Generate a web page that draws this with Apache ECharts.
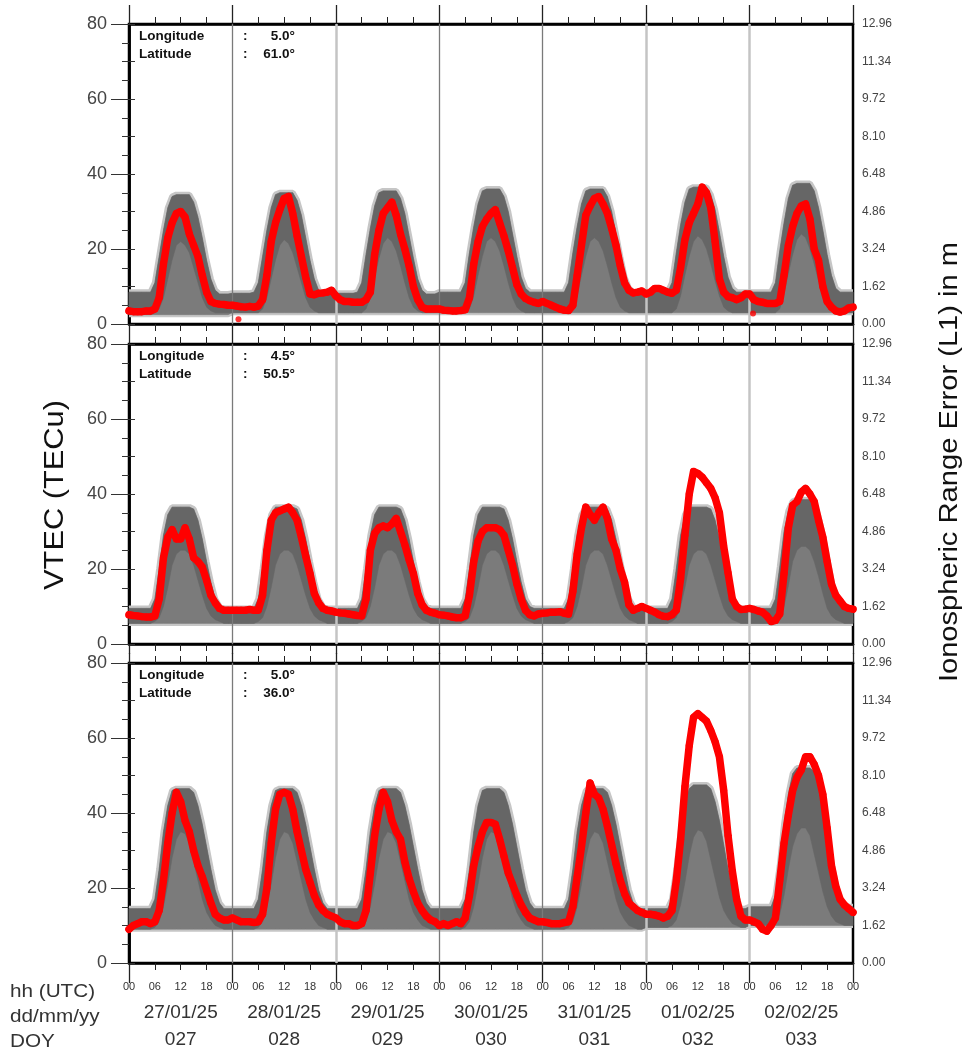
<!DOCTYPE html>
<html><head><meta charset="utf-8">
<script src="https://cdn.jsdelivr.net/npm/echarts@6/dist/echarts.min.js"></script>
<style>html,body{margin:0;padding:0;background:#fff}#c{width:971px;height:1054px}</style>
</head><body><div id="c"></div>
<script>
// ---------- data ----------
const dates = ['27/01/25','28/01/25','29/01/25','30/01/25','31/01/25','01/02/25','02/02/25'];
const doys = ['027','028','029','030','031','032','033'];
const lons = ['5.0','4.5','5.0'];
const lats = ['61.0','50.5','36.0'];
const rowLabels = ['hh (UTC)','dd/mm/yy','DOY'];

// measured VTEC (red), hourly per day (last day includes 00 of next day)
const vtecLat61 = [
 [3.5,3.3,3.3,3.3,3.5,3.5,4,7,16,23,27,29.5,30,28.5,24,21,18,13,8.5,6,5.5,5.3,5.2,5],
 [5,4.8,4.6,4.5,4.7,4.5,4.8,6.5,13,22,27,30.5,33.5,34,29.5,23.5,18,12.5,8,7.8,8.2,8.3,8.5,9],
 [7.5,6.5,6,6,5.8,5.8,5.8,6.5,8.5,18.5,25,29.5,31,32.5,29,24,20,15.5,10,6.5,4.5,4,4,4],
 [4,3.7,3.6,3.5,3.5,3.6,3.8,7,16,22,26,28,29.5,30.5,27,23.5,19.5,15,10.5,8,6.8,6.2,5.8,5.5],
 [6,5.5,5,4.5,4,3.7,3.6,5,13,21,29,31.5,33.5,34,32,29.5,25.5,21,15.5,11,9,8.3,8.5,8.8],
 [8,8.5,9.5,9.5,9,8.5,8.2,9,15,22.5,27,29.5,32,36.5,35,31,22,12,8.5,7.3,7,6.5,7,8],
 [8,6.5,6,5.8,5.5,5.5,5.5,6,13,21,26,29.5,31.5,32,28,20,17,10,6,4.5,3.5,3.2,3.5,4.3,4.5]
];
const vtecLat50 = [
 [7.8,7.6,7.5,7.3,7.2,7.2,7.5,12,23,28.5,30.5,28,28,31,28,23,22,20.5,17,13,11,9.5,9,9],
 [9,9,9,9,9.2,9,9,13,25,33,35,35.5,36,36.5,35,33,28.5,23.5,18.8,13.5,11,9.5,9,8.8],
 [8.5,8.3,8.2,8,7.8,7.6,7.5,12,25,29.5,31,31.5,31,32,33.5,30,26.5,22.5,18.8,13.5,10.5,9,8.5,8.2],
 [7.8,7.7,7.5,7.2,7,7,7.5,13,22,27.5,30,31,31,31,30.5,29,25,21,16,12,9,7.8,7.5,8],
 [8.2,8.3,8.5,8.5,8.6,8.2,8,14,24,31,36.5,34.5,33,35,36.5,33.5,28,25,20,16.5,10.5,9,9.5,10],
 [9.5,9,8.5,7.8,7.4,7.3,7.8,9,17.5,29,40,46,45.5,44.5,43,41.5,39,35,26,19,12,10,9.2,9.3],
 [9.5,9.2,8.8,8.5,7.5,6,6.3,8,18.8,31,37,38,40.5,41.5,40,38,33,28.5,22,16,13,11.5,10,9.5,9.3]
];
const vtecLat36 = [
 [9,10,10.5,11,11,10.5,11,14,22,32,40,45.5,43,38,35,30,26,23,19.5,16,13,12,11.5,11.5],
 [12,11.5,11,11,11,10.8,11,13,20,32,41,45,45.5,45,41,35,30,25,21.5,18,15.5,14,13,12.5],
 [12,11,10.5,10.5,10,10,10.5,14,24,34,41,45.5,43,38,35,33,27,22.5,19,16,14,12.5,11.5,11],
 [10,10.5,10,10.5,11,10.5,12,18,26,31,35,37.5,37.5,37,33,28.5,24,21,18,15.5,13.5,12,11.5,11],
 [11,10.8,10.5,10.5,10.5,10.8,11,15,23,31,40,48,45,44,41,36.5,31.5,26.5,22,18.5,16,15,14,13.5],
 [13,13,12.8,12.5,12,12.5,14,22,33,47,58,65.5,66.5,65.5,64.5,62,59,55,46,34,24.5,17,12.5,11.5],
 [11.5,11,10.5,9,8.5,10,12,22,32,39.5,46,49.5,51.5,55,55,53,50,45,36,26,20.5,17,15.5,14.5,13.5]
];
// isolated red points [hour since 27/01 00 UTC, VTEC]
const outliers61 = [[25.4,1.3],[144.8,2.8]];
const outliers50 = [];
const outliers36 = [];

// reference band (grey): upper limit, dense-core lower limit, and night floor, hourly
const bandHi61 = [
 [8.5,8.5,8.5,8.5,8.5,8.5,11,18,25,31,34,34.5,34.5,34.5,34.5,32.5,28.5,23,17,12,9,8,8,8],
 [8.2,8.2,8.2,8.2,8.2,8.5,11,18,25,31,34.5,35,35,35,35,33,29,23,17,12,9,8,8,8],
 [8.2,8.2,8.2,8.2,8.2,8.5,11,18.5,25.5,31.5,35,35.5,35.5,35.5,35.5,33.5,29.5,23.5,17.5,12,9,8,8,8],
 [8.5,8.5,8.5,8.5,8.5,8.5,11,19,26,32,35.5,36,36,36,36,34,30,24,18,12.5,9.5,8.5,8.5,8.5],
 [8.5,8.5,8.5,8.5,8.5,8.5,11,19,26,32,35.5,36,36,36,36,34,30,24,18,12.5,9.5,8.5,8.5,8.5],
 [8.5,8.5,8.5,8.5,8.5,8.5,11,19,26.5,32.5,36,36.5,36.5,36.5,36.5,34.5,30.5,24.5,18,12.5,9.5,8.5,8.5,8.5],
 [8.5,8.5,8.5,8.5,8.5,8.5,11,19.5,27,33.5,37,37.5,37.5,37.5,37.5,35.5,31,25,18.5,13,9.5,8.5,8.5,8.5,8.5]
];
const bandLo61 = [
 [2.5,2.5,2.5,2.5,2.5,2.5,3,4,7,12,17,21,22,21,19,15,11,7,4.5,3.5,3,3,3,3],
 [3,3,3,3,3,3,3,4,7,12,17,21,22.5,21.5,19,15,11,7,4.5,3.5,3,3,3,3],
 [3,3,3,3,3,3,3,4,7,12.5,17.5,21.5,23,22,19.5,15.5,11,7,4.5,3.5,3,3,3,3],
 [3,3,3,3,3,3,3,4,7.5,13,18,22,23,22,19.5,15.5,11,7,4.5,3.5,3,3,3,3],
 [3,3,3,3,3,3,3,4,7.5,13,18,22,23,22,19.5,15.5,11,7,4.5,3.5,3,3,3,3],
 [3,3,3,3,3,3,3,4,7.5,13,18,22,23.5,22.5,20,16,11.5,7.5,4.5,3.5,3,3,3,3],
 [3,3,3,3,3,3,3,4,8,13.5,18.5,22.5,24,23,20,16,11.5,7.5,4.5,3.5,3,3,3,3,3]
];
const bandFloor61 = [2.5,3,3,3,3,3,3];

const bandHi50 = [
 [9.5,9.5,9.5,9.5,9.5,9.5,12,20,29,34.5,36.5,36.5,36.5,36.5,36.5,36,33,28,22,16.5,12,10,9.5,9.5],
 [9.5,9.5,9.5,9.5,9.5,9.5,12,20,29,34.5,36.5,36.5,36.5,36.5,36.5,36,33,28,22,16.5,12,10,9.5,9.5],
 [9.5,9.5,9.5,9.5,9.5,9.5,12,20,29,34.5,36.5,36.5,36.5,36.5,36.5,36,33,28,22,16.5,12,10,9.5,9.5],
 [9.5,9.5,9.5,9.5,9.5,9.5,12,20,29,34.5,36.5,36.5,36.5,36.5,36.5,36,33,28,22,16.5,12,10,9.5,9.5],
 [9.5,9.5,9.5,9.5,9.5,9.5,12,20,29,34.5,36.5,36.5,36.5,36.5,36.5,36,33,28,22,16.5,12,10,9.5,9.5],
 [9.5,9.5,9.5,9.5,9.5,9.5,12,20,29,34.5,36.5,36.5,36.5,36.5,36.5,36,33,28,22,16.5,12,10,9.5,9.5],
 [9.5,9.5,9.5,9.5,9.5,9.5,12,20.5,30,35.5,38,38.5,38.5,38.5,38.5,37.5,34,29,23,17,12,10,9.5,9.5,9.5]
];
const bandLo50 = [
 [5.5,5.5,5.5,5.5,5.5,5.5,6,7,10,15,21,24,25,25,24,21,17,13,9.5,7.5,6.5,6,5.5,5.5],
 [5.5,5.5,5.5,5.5,5.5,5.5,6,7,10,15,21,24,25,25,24,21,17,13,9.5,7.5,6.5,6,5.5,5.5],
 [5.5,5.5,5.5,5.5,5.5,5.5,6,7,10,15,21,24,25,25,24,21,17,13,9.5,7.5,6.5,6,5.5,5.5],
 [5.5,5.5,5.5,5.5,5.5,5.5,6,7,10,15,21,24,25,25,24,21,17,13,9.5,7.5,6.5,6,5.5,5.5],
 [5.5,5.5,5.5,5.5,5.5,5.5,6,7,10,15,21,24,25,25,24,21,17,13,9.5,7.5,6.5,6,5.5,5.5],
 [5.5,5.5,5.5,5.5,5.5,5.5,6,7,10,15,21,24,25,25,24,21,17,13,9.5,7.5,6.5,6,5.5,5.5],
 [5.5,5.5,5.5,5.5,5.5,5.5,6,7,10,15.5,22,25,26,26,25,22,18,13.5,9.5,7.5,6.5,6,5.5,5.5,5.5]
];
const bandFloor50 = [5.5,5.5,5.5,5.5,5.5,5.5,5.5];

const bandHi36 = [
 [14.5,14.5,14.5,14.5,14.5,14.5,17,25,35,42,46,46.5,46.5,46.5,46.5,45.5,42,37,31,25,19.5,16,14.5,14.5],
 [14.5,14.5,14.5,14.5,14.5,14.5,17,25,35,42,46,46.5,46.5,46.5,46.5,45.5,42,37,31,25,19.5,16,14.5,14.5],
 [14.5,14.5,14.5,14.5,14.5,14.5,17,25,35,42,46,46.5,46.5,46.5,46.5,45.5,42,37,31,25,19.5,16,14.5,14.5],
 [14.5,14.5,14.5,14.5,14.5,14.5,17,25,35,42,46,46.5,46.5,46.5,46.5,45.5,42,37,31,25,19.5,16,14.5,14.5],
 [14.5,14.5,14.5,14.5,14.5,14.5,17,25,35,42,46,46.5,46.5,46.5,46.5,45.5,42,37,31,25,19.5,16,14.5,14.5],
 [14.5,14.5,14.5,14.5,14.5,14.5,17,25,35,42.5,46.5,47.5,47.5,47.5,47.5,46.5,43,38,31.5,25,19.5,16,14.5,14.5],
 [15,15,15,15,15,15,18,26,37,45,50.5,52,52,52,52,51,47,41,34,27,21,17,15,15,15]
];
const bandLo36 = [
 [9,9,9,9,9,9,9.5,11,15,21,28,33,35,34.5,32,27,22,17,13.5,11.5,10,9.5,9,9],
 [9,9,9,9,9,9,9.5,11,15,21,28,33,35,34.5,32,27,22,17,13.5,11.5,10,9.5,9,9],
 [9,9,9,9,9,9,9.5,11,15,21,28,33,35,34.5,32,27,22,17,13.5,11.5,10,9.5,9,9],
 [9,9,9,9,9,9,9.5,11,15,21,28,33,35,34.5,32,27,22,17,13.5,11.5,10,9.5,9,9],
 [9,9,9,9,9,9,9.5,11,15,21,28,33,35,34.5,32,27,22,17,13.5,11.5,10,9.5,9,9],
 [9.5,9.5,9.5,9.5,9.5,9.5,10,11.5,15.5,21.5,28.5,33.5,35.5,35,32.5,27.5,22.5,17.5,14,12,10.5,10,9.5,9.5],
 [10,10,10,10,10,10,11,13,18,25,31,34.5,36,36,34,29,24,19,15,12.5,11,10.5,10,10,10]
];
const bandFloor36 = [9,9,9,9,9,9.5,10];

// ---------- helpers ----------
function toPoints(days){const out=[];days.forEach((d,di)=>d.forEach((v,h)=>out.push([di*24+h,v])));return out;}
function floorDays(hi,floor){return hi.map((d,di)=>d.map(()=>floor[di]));}
// one polygon per day, built from the hi/lo arrays through the axis scales (api.coord)
function makeDayBand(hiDays,loDays,color){
  return function(params,api){
    const d=params.dataIndex;
    const hs=hiDays[d].slice(), ls=loDays[d].slice();
    if(d+1<hiDays.length){hs.push(hiDays[d+1][0]);ls.push(loDays[d+1][0]);}
    const pts=[];
    hs.forEach((v,h)=>pts.push(api.coord([d*24+h,v])));
    for(let h=ls.length-1;h>=0;h--) pts.push(api.coord([d*24+h,ls[h]]));
    return {type:'polygon',shape:{points:pts},style:{fill:color,stroke:color,lineWidth:0.5}};
  };
}

const panels = [
 {red:vtecLat61, hi:bandHi61, lo:bandLo61, floor:bandFloor61, out:outliers61},
 {red:vtecLat50, hi:bandHi50, lo:bandLo50, floor:bandFloor50, out:outliers50},
 {red:vtecLat36, hi:bandHi36, lo:bandLo36, floor:bandFloor36, out:outliers36}
];
const tops = [24,344,663];
const FONT = "'Liberation Sans', Arial, sans-serif";
const sepStyle = [
 {color:'#7a7a7a',width:1.3},{color:'#c4c4c4',width:2.5},{color:'#7a7a7a',width:1.3},
 {color:'#7a7a7a',width:1.3},{color:'#c4c4c4',width:2.5},{color:'#c4c4c4',width:2.5}
];

const grid=[],xAxis=[],yAxis=[],series=[],graphic=[];
panels.forEach((P,p)=>{
  grid.push({left:129,top:tops[p],width:724,height:300,show:true,borderColor:'#000',borderWidth:2.5,backgroundColor:'transparent'});
  const base={type:'value',gridIndex:p,min:0,max:168,splitLine:{show:false}};
  xAxis.push(Object.assign({},base,{position:'bottom',interval:6,
    axisLine:{show:true,onZero:false,lineStyle:{color:'#000',width:2.5}},
    axisTick:{show:true,length:7,lineStyle:{color:'#222',width:1}},
    axisLabel:{show:p===2,margin:18,fontSize:11,color:'#333',fontFamily:FONT,
      showMinLabel:true,showMaxLabel:true,
      formatter:v=>String(v%24).padStart(2,'0')}}));
  xAxis.push(Object.assign({},base,{position:'top',interval:6,
    axisLine:{show:true,onZero:false,lineStyle:{color:'#000',width:2.5}},
    axisTick:{show:true,length:7,lineStyle:{color:'#222',width:1}},axisLabel:{show:false}}));
  xAxis.push(Object.assign({},base,{position:'bottom',interval:24,axisLine:{show:false,onZero:false},
    axisTick:{show:true,length:p===2?20:10,lineStyle:{color:'#222',width:1.3}},axisLabel:{show:false}}));
  xAxis.push(Object.assign({},base,{position:'top',interval:24,axisLine:{show:false,onZero:false},
    axisTick:{show:true,length:p===0?19:10,lineStyle:{color:'#222',width:1.3}},axisLabel:{show:false}}));
  yAxis.push({type:'value',gridIndex:p,min:0,max:80,interval:20,position:'left',
    axisLine:{show:true,lineStyle:{color:'#000',width:2.5}},
    axisTick:{show:true,length:18,lineStyle:{color:'#333',width:1}},
    minorTick:{show:true,splitNumber:4,length:7,lineStyle:{color:'#333',width:1}},
    splitLine:{show:false},minorSplitLine:{show:false},
    axisLabel:{margin:22,fontSize:18,color:'#444',fontFamily:FONT}});
  yAxis.push({type:'value',gridIndex:p,min:0,max:12.96,interval:1.62,position:'right',
    axisLine:{show:true,lineStyle:{color:'#000',width:2.5}},
    axisTick:{show:true,length:6,lineStyle:{color:'#333',width:1}},
    splitLine:{show:false},
    axisLabel:{margin:9,fontSize:12,color:'#444',fontFamily:FONT,formatter:v=>v.toFixed(2)}});
  const xi=p*4, yi=p*2;
  const floorArr=floorDays(P.hi,P.floor);
  const dayItems=dates.map((_,i)=>[i*24,0]);
  series.push({type:'line',xAxisIndex:xi,yAxisIndex:yi,data:[],z:1,silent:true,
    markLine:{symbol:'none',silent:true,label:{show:false},animation:false,
      data:sepStyle.map((s,i)=>({xAxis:(i+1)*24,lineStyle:{color:s.color,width:s.width,type:'solid'}}))}});
  series.push({type:'line',xAxisIndex:xi,yAxisIndex:yi,data:toPoints(P.hi),
    symbol:'none',lineStyle:{color:'#c6c6c6',width:6},z:2,silent:true});
  series.push({type:'line',xAxisIndex:xi,yAxisIndex:yi,data:toPoints(floorArr),
    symbol:'none',lineStyle:{color:'#c6c6c6',width:5},z:2,silent:true});
  series.push({type:'custom',xAxisIndex:xi,yAxisIndex:yi,data:dayItems,
    renderItem:makeDayBand(P.hi,floorArr,'#7b7b7b'),z:3,silent:true});
  series.push({type:'custom',xAxisIndex:xi,yAxisIndex:yi,data:dayItems,
    renderItem:makeDayBand(P.hi,P.lo,'#666666'),z:3,silent:true});
  series.push({type:'line',xAxisIndex:xi,yAxisIndex:yi,data:toPoints(P.red),z:5,silent:true,
    symbol:'circle',symbolSize:7,showSymbol:true,itemStyle:{color:'#ff0000'},
    lineStyle:{color:'#ff0000',width:7.5,join:'round',cap:'round'}});
  series.push({type:'scatter',xAxisIndex:xi,yAxisIndex:yi,data:P.out,z:5,silent:true,
    symbolSize:6,itemStyle:{color:'#ff0000'}});

  const bold='bold 13.5px '+FONT;
  graphic.push({type:'text',x:139,y:tops[p]+12,style:{text:'Longitude',font:bold,fill:'#111',verticalAlign:'middle'}});
  graphic.push({type:'text',x:139,y:tops[p]+30,style:{text:'Latitude',font:bold,fill:'#111',verticalAlign:'middle'}});
  graphic.push({type:'text',x:243,y:tops[p]+12,style:{text:':',font:bold,fill:'#111',verticalAlign:'middle'}});
  graphic.push({type:'text',x:243,y:tops[p]+30,style:{text:':',font:bold,fill:'#111',verticalAlign:'middle'}});
  graphic.push({type:'text',x:295,y:tops[p]+12,style:{text:lons[p]+'°',font:bold,fill:'#111',align:'right',verticalAlign:'middle'}});
  graphic.push({type:'text',x:295,y:tops[p]+30,style:{text:lats[p]+'°',font:bold,fill:'#111',align:'right',verticalAlign:'middle'}});
});
// date / DOY labels under the bottom panel
xAxis.push({type:'category',gridIndex:2,position:'bottom',data:dates,boundaryGap:true,
  axisLine:{show:false},axisTick:{show:false},splitLine:{show:false},
  axisLabel:{interval:0,margin:36,fontSize:19,lineHeight:27,color:'#333',fontFamily:FONT,
    formatter:(v,i)=>v+'\n'+doys[i]}});

rowLabels.forEach((t,i)=>graphic.push({type:'text',x:10,y:992+i*25,scaleX:1.15,
  style:{text:t,font:'18px '+FONT,fill:'#333',verticalAlign:'middle'}}));
graphic.push({type:'text',x:55,y:495,rotation:Math.PI/2,scaleX:1.1,
  style:{text:'VTEC (TECu)',font:'28px '+FONT,fill:'#111',align:'center',verticalAlign:'middle'}});
graphic.push({type:'text',x:950,y:462,rotation:Math.PI/2,scaleX:1.12,
  style:{text:'Ionospheric Range Error (L1) in m',font:'26px '+FONT,fill:'#111',align:'center',verticalAlign:'middle'}});

const chart = echarts.init(document.getElementById('c'),null,{renderer:'canvas'});
chart.setOption({animation:false,backgroundColor:'#fff',grid,xAxis,yAxis,series,graphic});
</script></body></html>
